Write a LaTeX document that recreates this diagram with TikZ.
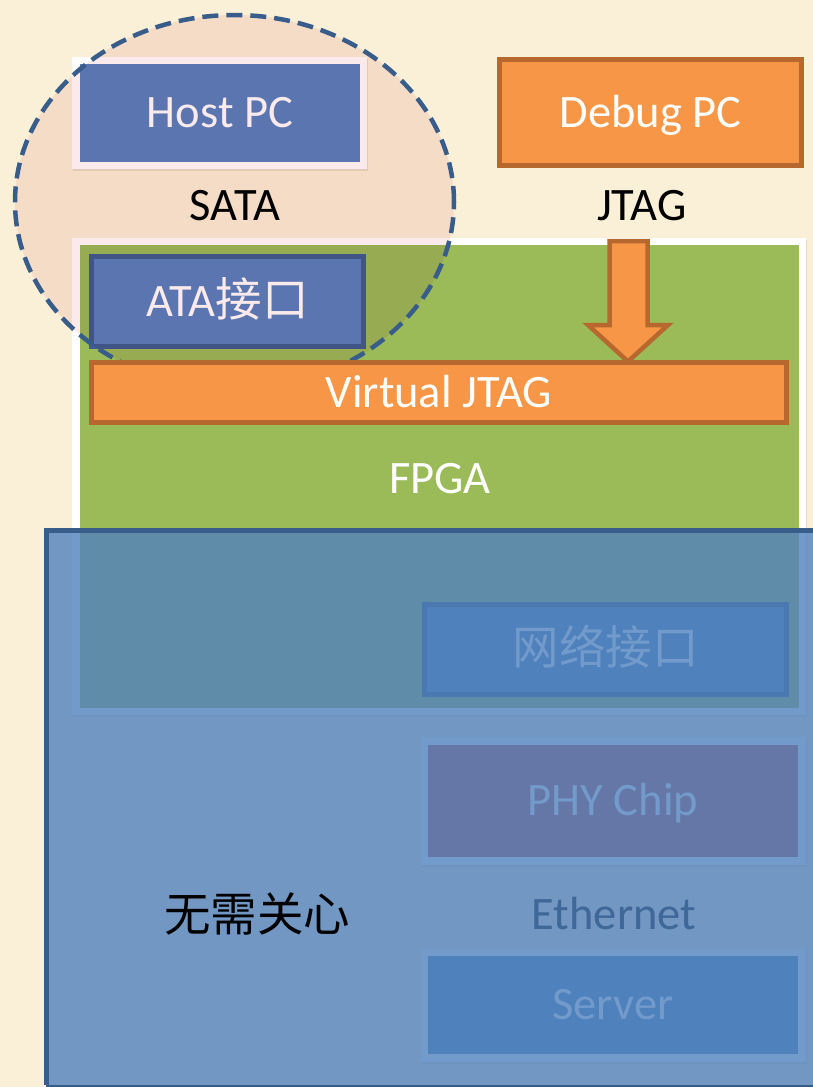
\documentclass[tikz,border=0pt]{standalone}
\usepackage{fontspec}
\setmainfont{Carlito}
\newfontfamily\cjk{Noto Sans CJK SC}

\definecolor{parch}{RGB}{250,240,215}
\definecolor{accblue}{RGB}{79,129,189}
\definecolor{hostblue}{RGB}{92,128,190}
\definecolor{darkblue}{RGB}{56,93,138}
\definecolor{ataedge}{RGB}{66,92,145}
\definecolor{accorange}{RGB}{247,150,70}
\definecolor{orangeedge}{RGB}{182,104,46}
\definecolor{accgreen}{RGB}{155,187,89}
\definecolor{accred}{RGB}{192,80,77}
\definecolor{tint}{RGB}{250,234,236}

\tikzset{
  txt/.style={font=\fontsize{46.5}{55}\selectfont, inner sep=0pt},
  boxtxt/.style={txt, text=white, text height=29.6pt, text depth=0pt},
  frame/.style={fill=white, inner sep=0pt},
  shade/.style={fill=black, opacity=0.08, inner sep=0pt},
  plainbox/.style={boxtxt, inner sep=0pt},
  orangebox/.style={boxtxt, fill=accorange, draw=orangeedge, line width=5pt},
  atabox/.style={boxtxt, fill=hostblue, draw=ataedge, line width=5pt},
  netbox/.style={boxtxt, fill=accblue, draw=darkblue, line width=5pt},
}

\begin{document}
\begin{tikzpicture}[x=1pt, y=-1pt]
\useasboundingbox (0,0) rectangle (813,1087);
\fill[parch] (0,0) rectangle (813,1087);

% host computer with its white frame
\node[shade, minimum width=295pt, minimum height=112pt] at (220.5,114.5) {};
\node[frame, minimum width=295pt, minimum height=112pt] (hostframe) at (219.5,113) {};
\node[plainbox, fill=hostblue, minimum width=280pt, minimum height=98pt] (host) at (220,113) {Host PC};

% debug computer
\node[orangebox, minimum width=302pt, minimum height=106pt] (debug) at (650.5,112.5) {Debug PC};

\node[txt, anchor=base] (sata) at (235,220) {SATA};
\node[txt, anchor=base] (jtag) at (642,220) {JTAG};

% FPGA board with its white frame
\node[shade, minimum width=734pt, minimum height=477pt] at (440,478) {};
\node[frame, minimum width=734pt, minimum height=477pt] (fpgaframe) at (439,476.5) {};
\node[inner sep=0pt, fill=accgreen, minimum width=719pt, minimum height=463pt] (fpga) at (439.5,476.5) {};

\node[atabox, minimum width=272pt, minimum height=90pt] (ata) at (227.5,301.5) {ATA{\cjk 接口}};

% SATA domain
\begin{scope}[blend mode=multiply]
  \fill[tint] (234.5,202) ellipse [x radius=219.5pt, y radius=187pt];
\end{scope}
\draw[darkblue, line width=4.5pt, dash pattern=on 16pt off 8pt]
  (234.5,202) ellipse [x radius=219.5pt, y radius=187pt];

% JTAG block arrow into the virtual JTAG bar
\coordinate (tip) at (628,361.5);
\draw[fill=accorange, draw=orangeedge, line width=4.5pt, line join=miter]
  (609.5,241) -- (609.5,325) -- (588,325) -- (tip) -- (668,325)
  -- (647.5,325) -- (647.5,241) -- cycle;

\node[orangebox, minimum width=695pt, minimum height=60pt] (vjtag) at (439,392.5) {Virtual JTAG};

\node[txt, text=white, anchor=base] (fpgalbl) at (440,493) {FPGA};

% network side
\node[netbox, minimum width=362pt, minimum height=90pt] (net) at (605.5,649.5) {\cjk 网络接口};

\node[shade, minimum width=385pt, minimum height=128pt] at (614.5,802.5) {};
\node[frame, minimum width=385pt, minimum height=128pt] (phyframe) at (613.5,801) {};
\node[plainbox, fill=accred, minimum width=370pt, minimum height=112pt] (phy) at (613,801) {PHY Chip};

\node[txt, anchor=base] (eth) at (614,929) {Ethernet};

\node[shade, minimum width=385pt, minimum height=113pt] at (614.5,1007) {};
\node[frame, minimum width=385pt, minimum height=113pt] (srvframe) at (613.5,1005.5) {};
\node[plainbox, fill=accblue, minimum width=370pt, minimum height=98pt] (server) at (613,1005) {Server};

% the part that needs no attention
\fill[accblue, fill opacity=0.8] (46,530) rectangle (840,1085);
\draw[darkblue, line width=5pt] (46,1085) -- (46,530) -- (840,530);
\draw[darkblue, line width=2pt] (46,1086) -- (840,1086);

\node[txt, anchor=base] (ignore) at (257,931) {\cjk 无需关心};
\end{tikzpicture}
\end{document}
